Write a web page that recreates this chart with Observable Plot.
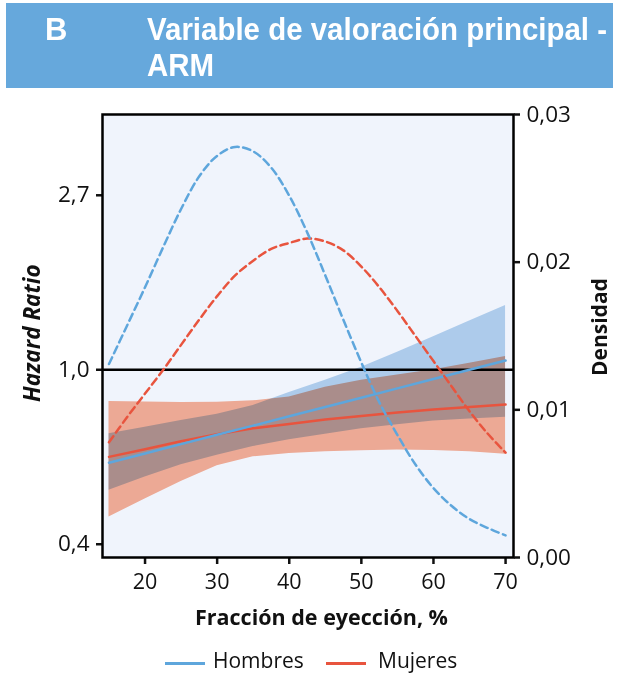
<!DOCTYPE html>
<html>
<head>
<meta charset="utf-8">
<script src="https://cdn.jsdelivr.net/npm/d3@7"></script>
<script src="https://cdn.jsdelivr.net/npm/@observablehq/plot@0.6"></script>
<style>
  html, body { margin: 0; padding: 0; background: #fff; }
  body { width: 621px; height: 674px; position: relative; overflow: hidden; font-family: "Open Sans", sans-serif; color: #111; }
  #header { position: absolute; left: 6px; top: 3px; width: 607px; height: 85px; background: #66a8dc; }
  .hdr { position: absolute; color: #fff; font-family: "Liberation Sans", Arial, sans-serif; font-weight: 700; font-size: 31px; line-height: 36px; white-space: nowrap; transform-origin: 0 0; }
  #plots { position: absolute; left: 0; top: 100px; width: 621px; height: 530px; }
  #plots svg { position: absolute; left: 0; top: 0; }
  .vlabel { position: absolute; font-weight: 700; white-space: nowrap; transform-origin: 0 0; line-height: 30px; }
  #xlabel { position: absolute; left: 0; width: 621px; top: 602px; text-align: center; font-weight: 700; font-size: 21.5px; padding-left: 22px; box-sizing: border-box; }
  #legend { position: absolute; top: 646px; left: 0; width: 621px; font-size: 21px; }
  .sw { position: absolute; height: 3px; width: 40px; top: 16px; }
  .lt { position: absolute; top: 0; }
</style>
</head>
<body>
<div id="header">
  <div class="hdr" style="left:39px; top:9px;">B</div>
  <div class="hdr" id="title" style="left:141px; top:9px;"><span id="t1">Variable de valoración principal -</span><br>ARM</div>
</div>
<div id="plots"></div>
<div class="vlabel" style="left:17px; top:402px; font-size:22.5px; transform: rotate(-90deg); font-style: italic;">Hazard Ratio</div>
<div class="vlabel" style="left:584px; top:376px; font-size:21px; transform: rotate(-90deg);">Densidad</div>
<div id="xlabel">Fracción de eyección, %</div>
<div id="legend">
  <div class="sw" style="left:165px; background:#5ea6dc;"></div>
  <div class="lt" style="left:213px;">Hombres</div>
  <div class="sw" style="left:326px; background:#e8543e;"></div>
  <div class="lt" style="left:378px;">Mujeres</div>
</div>
<script>
// ---- Data ----
const ef = [15, 20, 25, 30, 35, 40, 45, 50, 55, 60, 65, 70];

// Hazard ratio estimates and 95% CI, men (Hombres)
const hrMen      = [0.587, 0.619, 0.653, 0.689, 0.726, 0.766, 0.808, 0.852, 0.899, 0.948, 1.000, 1.054];
const hrMenLow   = [0.501, 0.541, 0.580, 0.613, 0.644, 0.670, 0.691, 0.713, 0.730, 0.745, 0.754, 0.762];
const hrMenHigh  = [0.693, 0.719, 0.748, 0.775, 0.815, 0.878, 0.942, 1.015, 1.105, 1.209, 1.323, 1.445];

// Hazard ratio estimates and 95% CI, women (Mujeres)
const hrWomen     = [0.607, 0.634, 0.664, 0.691, 0.715, 0.733, 0.752, 0.767, 0.783, 0.796, 0.808, 0.819];
const hrWomenLow  = [0.430, 0.477, 0.527, 0.577, 0.607, 0.619, 0.625, 0.629, 0.631, 0.630, 0.625, 0.616];
const hrWomenHigh = [0.834, 0.831, 0.829, 0.830, 0.837, 0.856, 0.905, 0.942, 0.970, 1.000, 1.038, 1.079];

// Density of ejection fraction
const efDens = [15, 17.5, 20, 22.5, 25, 27.5, 30, 32.5, 35, 37.5, 40, 42.5, 45, 47.5, 50, 52.5, 55, 57.5, 60, 62.5, 65, 67.5, 70];
const densMen   = [0.0131, 0.0157, 0.0183, 0.0210, 0.0236, 0.0258, 0.0272, 0.0278, 0.0275, 0.0264, 0.0245, 0.0220, 0.0191, 0.0161, 0.0132, 0.0105, 0.0083, 0.0063, 0.0047, 0.0035, 0.0026, 0.0020, 0.0015];
const densWomen = [0.0078, 0.0095, 0.0111, 0.0127, 0.0144, 0.0161, 0.0177, 0.0191, 0.0201, 0.0209, 0.0213, 0.0216, 0.0214, 0.0208, 0.0197, 0.0183, 0.0167, 0.0150, 0.0133, 0.0116, 0.0099, 0.0084, 0.0071];

// Axis ticks
const xTicks = [20, 30, 40, 50, 60, 70];
const hrTicks = [Math.exp(-1), 1, Math.exp(1)];
const hrTickLabels = ["0,4", "1,0", "2,7"];
const densTicks = [0, 0.01, 0.02, 0.03];
const densTickLabels = ["0,00", "0,01", "0,02", "0,03"];

const colMen = "#5ea6dc";
const colWomen = "#e8543e";

// ---- Build tables ----
const rowsMen = ef.map((x, i) => ({ef: x, hr: hrMen[i], lo: hrMenLow[i], hi: hrMenHigh[i]}));
const rowsWomen = ef.map((x, i) => ({ef: x, hr: hrWomen[i], lo: hrWomenLow[i], hi: hrWomenHigh[i]}));
const rowsDensMen = efDens.map((x, i) => ({ef: x, d: densMen[i]}));
const rowsDensWomen = efDens.map((x, i) => ({ef: x, d: densWomen[i]}));

const lookup = (ticks, labels) => d => {
  const k = ticks.findIndex(t => Math.abs(t - d) < 1e-6 * Math.max(1, Math.abs(t)));
  return k >= 0 ? labels[k] : "";
};

const W = 621, H = 530;
const margins = {marginTop: 14, marginBottom: 73, marginLeft: 102, marginRight: 108};
const xDomain = [14.1, 71.1];
const style = {fontFamily: "'Open Sans', sans-serif", fontSize: "21px", color: "#111", background: "transparent", overflow: "visible"};

const hrPlot = Plot.plot({
  width: W, height: H, ...margins, style,
  x: {domain: xDomain},
  y: {type: "log", domain: [Math.exp(-1.076), Math.exp(1.463)]},
  marks: [
    Plot.frame({fill: "#f0f4fc", stroke: null}),
    Plot.areaY(rowsMen, {x: "ef", y1: "lo", y2: "hi", fill: "#adcbeb"}),
    Plot.areaY(rowsWomen, {x: "ef", y1: "lo", y2: "hi", fill: "#fbb197", mixBlendMode: "multiply"}),
    Plot.ruleY([1], {stroke: "#000", strokeWidth: 2.5}),
    Plot.line(rowsWomen, {x: "ef", y: "hr", stroke: colWomen, strokeWidth: 2.5}),
    Plot.line(rowsMen, {x: "ef", y: "hr", stroke: colMen, strokeWidth: 2.5}),
    Plot.axisY({ticks: hrTicks, tickFormat: lookup(hrTicks, hrTickLabels), tickSize: 6, tickPadding: 7, strokeWidth: 2.5, label: null, fontSize: 22.5}),
    Plot.axisX({ticks: xTicks, tickFormat: d => String(d), tickSize: 7, tickPadding: 9, strokeWidth: 2.5, label: null, fontSize: 21.5}),
    Plot.frame({stroke: "#000", strokeWidth: 2.5})
  ]
});

const densPlot = Plot.plot({
  width: W, height: H, ...margins, style,
  x: {domain: xDomain, axis: null},
  y: {domain: [0, 0.03], axis: null},
  marks: [
    Plot.line(rowsDensWomen, {x: "ef", y: "d", stroke: colWomen, strokeWidth: 2.5, strokeDasharray: "7.5,4.5", curve: "catmull-rom"}),
    Plot.line(rowsDensMen, {x: "ef", y: "d", stroke: colMen, strokeWidth: 2.5, strokeDasharray: "7.5,4.5", curve: "catmull-rom"}),
    Plot.axisY({anchor: "right", ticks: densTicks, tickFormat: lookup(densTicks, densTickLabels), tickSize: 6, tickPadding: 7, strokeWidth: 2.5, label: null, fontSize: 22.5})
  ]
});

const holder = document.getElementById("plots");
holder.appendChild(hrPlot);
holder.appendChild(densPlot);

// condense the header title to the width it has in the reference
const title = document.getElementById("title");
const w1 = document.getElementById("t1").getBoundingClientRect().width;
title.style.transform = `scaleX(${460 / w1})`;
</script>
</body>
</html>
